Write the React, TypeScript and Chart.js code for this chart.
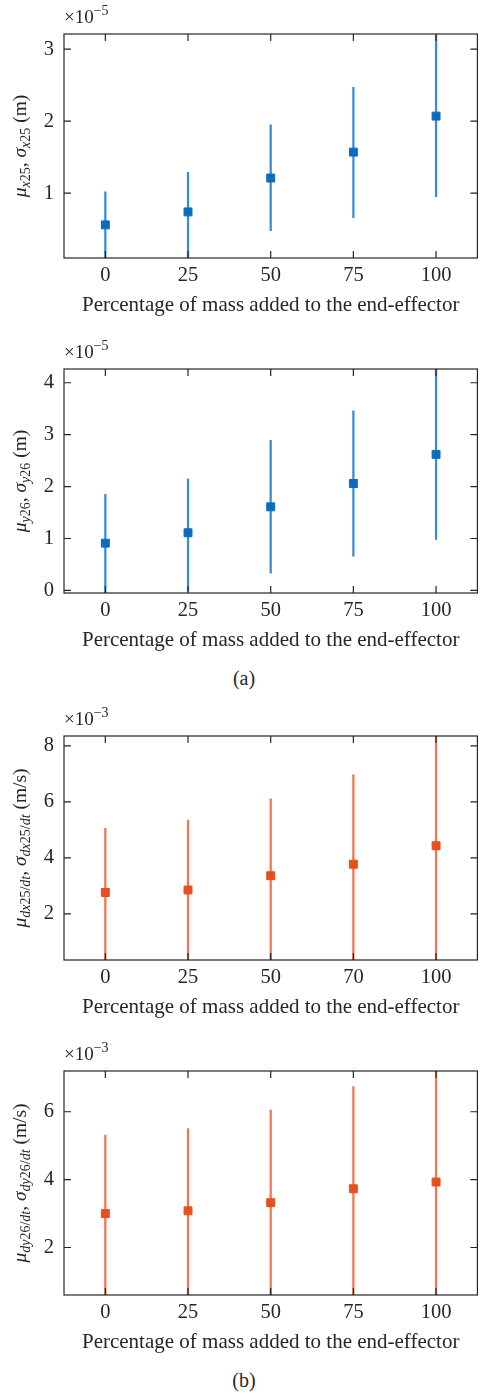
import React, { useEffect, useRef } from 'react';
import { Chart, registerables } from 'chart.js';

Chart.register(...registerables);

// ---------- data ----------
const xPositions = [0, 25, 50, 75, 100];
const xLabelsStd = ['0', '25', '50', '75', '100'];
const xLabelsDx = ['0', '25', '50', '70', '100'];

// (a) top: mu_x25, sigma_x25  (x 1e-5 m)
const meanX25 = [0.56, 0.74, 1.21, 1.57, 2.07];
const upperX25 = [1.02, 1.29, 1.95, 2.47, 3.19];
const lowerX25 = [0.08, 0.05, 0.48, 0.66, 0.95];
const ticksX25 = [1, 2, 3];

// (a) bottom: mu_y26, sigma_y26 (x 1e-5 m)
const meanY26 = [0.91, 1.11, 1.61, 2.06, 2.62];
const upperY26 = [1.85, 2.15, 2.89, 3.46, 4.28];
const lowerY26 = [-0.06, -0.02, 0.33, 0.66, 0.98];
const ticksY26 = [0, 1, 2, 3, 4];

// (b) top: mu_dx25/dt (x 1e-3 m/s)
const meanDx25 = [2.76, 2.85, 3.36, 3.77, 4.43];
const upperDx25 = [5.05, 5.35, 6.11, 6.96, 8.4];
const lowerDx25 = [0.32, 0.3, 0.28, 0.25, 0.2];
const ticksDx25 = [2, 4, 6, 8];

// (b) bottom: mu_dy26/dt (x 1e-3 m/s)
const meanDy26 = [3.0, 3.08, 3.32, 3.73, 3.93];
const upperDy26 = [5.31, 5.5, 6.05, 6.74, 7.3];
const lowerDy26 = [0.55, 0.5, 0.45, 0.5, 0.4];
const ticksDy26 = [2, 4, 6];

const xTitle = 'Percentage of mass added to the end-effector';

// ---------- style ----------
const FONT = "'Liberation Serif', 'Times New Roman', serif";
const TEXT = '#262626';
const BLUE_MARK = '#0a6cc0';
const BLUE_LINE = '#3b8bd3';
const ORANGE_MARK = '#e84f1d';
const ORANGE_LINE = '#ef7650';

type Seg = { t: string; italic?: boolean; sub?: boolean; sup?: boolean };

function subSegs(s: string): Seg[] {
  const out: Seg[] = [];
  for (const ch of s) {
    const it = /[a-z]/.test(ch);
    out.push({ t: ch, italic: it, sub: true });
  }
  return out;
}

function yTitleSegs(sub: string, unit: string): Seg[] {
  return [
    { t: 'μ', italic: true },
    ...subSegs(sub),
    { t: ', ' },
    { t: 'σ', italic: true },
    ...subSegs(sub),
    { t: ' (' + unit + ')' },
  ];
}

function segFont(seg: Seg, main: number, small: number) {
  const size = seg.sub || seg.sup ? small : main;
  return `${seg.italic ? 'italic ' : ''}${size}px ${FONT}`;
}

function drawSegs(ctx: CanvasRenderingContext2D, segs: Seg[], x: number, y: number, main: number, small: number, subShift: number, supShift: number, center: boolean) {
  let total = 0;
  const widths = segs.map((s) => {
    ctx.font = segFont(s, main, small);
    const w = ctx.measureText(s.t).width;
    total += w;
    return w;
  });
  let cx = center ? x - total / 2 : x;
  segs.forEach((s, i) => {
    ctx.font = segFont(s, main, small);
    const dy = s.sub ? subShift : s.sup ? -supShift : 0;
    ctx.fillText(s.t, cx, y + dy);
    cx += widths[i];
  });
}

const framePlugin = {
  id: 'frame',
  afterDatasetsDraw(chart: any) {
    const { ctx, chartArea: a, scales } = chart;
    ctx.save();
    ctx.strokeStyle = TEXT;
    ctx.lineWidth = 1.2;
    const tl = 7;
    ctx.beginPath();
    scales.x.ticks.forEach((t: any) => {
      const px = scales.x.getPixelForValue(t.value);
      ctx.moveTo(px, a.bottom);
      ctx.lineTo(px, a.bottom - tl);
      ctx.moveTo(px, a.top);
      ctx.lineTo(px, a.top + tl);
    });
    scales.y.ticks.forEach((t: any) => {
      const py = scales.y.getPixelForValue(t.value);
      ctx.moveTo(a.left, py);
      ctx.lineTo(a.left + tl, py);
      ctx.moveTo(a.right, py);
      ctx.lineTo(a.right - tl, py);
    });
    ctx.stroke();
    ctx.strokeRect(a.left, a.top, a.right - a.left, a.bottom - a.top);
    ctx.restore();
  },
  afterDraw(chart: any, _args: any, opts: any) {
    const { ctx, chartArea: a } = chart;
    ctx.save();
    ctx.fillStyle = TEXT;
    ctx.textBaseline = 'alphabetic';
    ctx.textAlign = 'left';
    drawSegs(ctx, [{ t: '×10' }, { t: '−' + opts.exp, sup: true }], a.left, a.top - 11, 19, 14, 0, 8, false);
    ctx.translate(26, (a.top + a.bottom) / 2);
    ctx.rotate(-Math.PI / 2);
    drawSegs(ctx, opts.segs, 0, 0, 19.5, 14, 4, 0, true);
    ctx.restore();
  },
};

type PanelProps = {
  top: number;
  mean: number[];
  upper: number[];
  lower: number[];
  yTicks: number[];
  yMin: number;
  yMax: number;
  xLabels: string[];
  mark: string;
  line: string;
  exp: string;
  segs: Seg[];
};

const CW = 484;
const CH = 330;
const TICK_SIZE = 20.5;
const TITLE_SIZE = 21;

function Panel(p: PanelProps) {
  const ref = useRef<HTMLCanvasElement | null>(null);
  useEffect(() => {
    if (!ref.current) return;
    const chart = new Chart(ref.current, {
      type: 'scatter',
      data: {
        datasets: [
          {
            type: 'bar',
            data: xPositions.map((x, i) => ({ x, y: [p.lower[i], p.upper[i]] })) as any,
            backgroundColor: p.line,
            borderWidth: 0,
            barThickness: 1.6,
            grouped: false,
            clip: 0,
            order: 2,
          } as any,
          {
            type: 'scatter',
            data: xPositions.map((x, i) => ({ x, y: p.mean[i] })),
            pointStyle: 'rect',
            pointRadius: 5.6,
            backgroundColor: p.mark,
            borderColor: p.mark,
            borderWidth: 1,
            order: 1,
          } as any,
        ],
      },
      options: {
        animation: false,
        responsive: false,
        maintainAspectRatio: false,
        devicePixelRatio: 1,
        events: [],
        layout: { padding: { top: 34, right: CW - 481, left: 0, bottom: 0 } },
        plugins: {
          legend: { display: false },
          tooltip: { enabled: false },
          frame: { exp: p.exp, segs: p.segs },
        } as any,
        scales: {
          x: {
            type: 'linear',
            min: -12.5,
            max: 112.5,
            offset: false,
            grid: { display: false, drawTicks: false, offset: false },
            border: { display: false },
            afterBuildTicks: (s: any) => {
              s.ticks = xPositions.map((v) => ({ value: v }));
            },
            afterFit: (s: any) => {
              s.height = 72;
            },
            ticks: {
              padding: 5.7,
              color: TEXT,
              maxRotation: 0,
              autoSkip: false,
              font: { family: FONT, size: TICK_SIZE },
              callback: (_v: any, i: number) => p.xLabels[i],
            },
            title: {
              display: true,
              text: xTitle,
              color: TEXT,
              font: { family: FONT, size: TITLE_SIZE },
              padding: { top: 0, bottom: 12.4 },
            },
          },
          y: {
            type: 'linear',
            min: p.yMin,
            max: p.yMax,
            beginAtZero: false,
            grid: { display: false, drawTicks: false },
            border: { display: false },
            afterBuildTicks: (s: any) => {
              s.ticks = p.yTicks.map((v) => ({ value: v }));
            },
            afterFit: (s: any) => {
              s.width = 64;
            },
            ticks: {
              padding: 10,
              color: TEXT,
              font: { family: FONT, size: TICK_SIZE },
              callback: (v: any) => String(v),
            },
          },
        },
      } as any,
      plugins: [framePlugin],
    });
    return () => chart.destroy();
  }, []);
  return (
    <canvas
      ref={ref}
      width={CW}
      height={CH}
      style={{ position: 'absolute', left: 0, top: p.top, width: CW, height: CH }}
    />
  );
}

const capStyle = (top: number): React.CSSProperties => ({
  position: 'absolute',
  left: 244,
  top,
  transform: 'translate(-50%, -50%)',
  fontFamily: FONT,
  fontSize: 20,
  color: TEXT,
  lineHeight: 1,
});

export default function App() {
  return (
    <div style={{ position: 'absolute', left: 0, top: 0, width: 480, height: 1395, overflow: 'hidden', background: '#fff' }}>
      <Panel top={0} mean={meanX25} upper={upperX25} lower={lowerX25} yTicks={ticksX25} yMin={0.1} yMax={3.21}
        xLabels={xLabelsStd} mark={BLUE_MARK} line={BLUE_LINE} exp="5" segs={yTitleSegs('x25', 'm')} />
      <Panel top={335} mean={meanY26} upper={upperY26} lower={lowerY26} yTicks={ticksY26} yMin={-0.05} yMax={4.265}
        xLabels={xLabelsStd} mark={BLUE_MARK} line={BLUE_LINE} exp="5" segs={yTitleSegs('y26', 'm')} />
      <div style={capStyle(678)}>(a)</div>
      <Panel top={702} mean={meanDx25} upper={upperDx25} lower={lowerDx25} yTicks={ticksDx25} yMin={0.35} yMax={8.35}
        xLabels={xLabelsDx} mark={ORANGE_MARK} line={ORANGE_LINE} exp="3" segs={yTitleSegs('dx25/dt', 'm/s')} />
      <Panel top={1037} mean={meanDy26} upper={upperDy26} lower={lowerDy26} yTicks={ticksDy26} yMin={0.6} yMax={7.2}
        xLabels={xLabelsStd} mark={ORANGE_MARK} line={ORANGE_LINE} exp="3" segs={yTitleSegs('dy26/dt', 'm/s')} />
      <div style={capStyle(1380)}>(b)</div>
    </div>
  );
}
